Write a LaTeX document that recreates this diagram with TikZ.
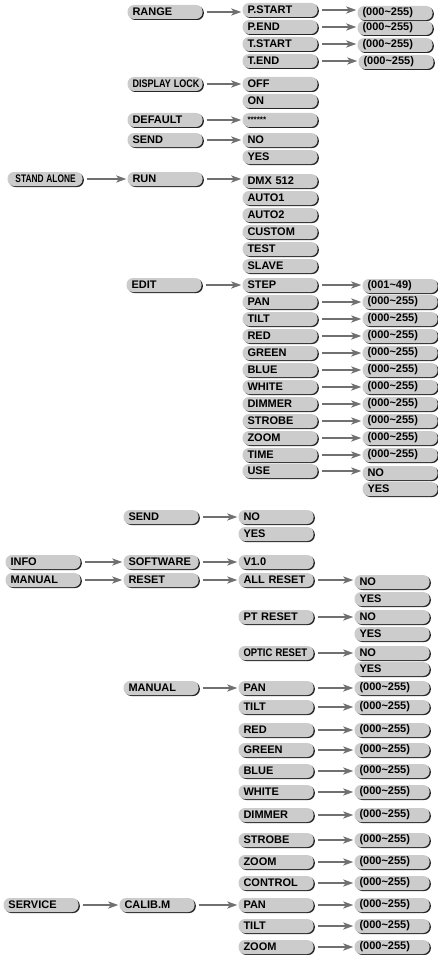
\documentclass[tikz,border=0pt]{standalone}
\usepackage{fontspec}
\setmainfont{Liberation Sans}
\usepackage{tikz}
\usetikzlibrary{arrows.meta, shadows}
\definecolor{boxgray}{RGB}{204,204,204}
\definecolor{arrgray}{RGB}{112,112,112}
\newcommand{\narrow}[2][0.82]{\scalebox{#1}[1]{#2}}

\begin{document}
\begin{tikzpicture}[
  x=1pt, y=-1pt,
  item/.style = {fill=boxgray, rounded corners=6.5pt,
                 minimum height=14pt, text width=65pt,
                 inner xsep=5pt, inner ysep=0pt, align=left,
                 font=\fontsize{11}{12}\selectfont\bfseries,
                 general shadow={fill=black!85, shadow xshift=1.3pt,
                                 shadow yshift=-1pt}},
  arr/.style  = {-{Stealth[length=10pt,width=7pt,inset=2.5pt]},
                 line width=2.6pt, arrgray, shorten <=4pt, shorten >=1pt},
]
\useasboundingbox (0,0) rectangle (437,955);

%% Range
\node[item] (range)   at (165, 12) {RANGE};
\node[item] (pstart)  at (280, 10) {P.START};
\node[item] (pend)    at (280, 27) {P.END};
\node[item] (tstart)  at (280, 44) {T.START};
\node[item] (tend)    at (280, 61) {T.END};
\node[item] (vpstart) at (395, 13) {(000\textasciitilde255)};
\node[item] (vpend)   at (395, 28) {(000\textasciitilde255)};
\node[item] (vtstart) at (395, 45) {(000\textasciitilde255)};
\node[item] (vtend)   at (396, 62) {(000\textasciitilde255)};

%% Display lock, default, send
\node[item] (dlock)   at (165, 84) {\narrow{DISPLAY LOCK}};
\node[item] (off)     at (280, 84) {OFF};
\node[item] (on)      at (280,101) {ON};
\node[item] (default) at (165,120) {DEFAULT};
\node[item] (stars)   at (280,120) {\raisebox{-2.5pt}{\fontsize{8}{9}\selectfont ******}};
\node[item] (send)    at (165,140) {SEND};
\node[item] (sendno)  at (280,140) {NO};
\node[item] (sendyes) at (280,157) {YES};

%% Stand alone / run
\node[item] (stalone) at (45,179) {\hspace*{3pt}\narrow[0.76]{STAND ALONE}};
\node[item] (run)     at (165,179) {RUN};
\node[item] (dmx)     at (280,181) {DMX 512};
\node[item] (auto1)   at (280,198) {AUTO1};
\node[item] (auto2)   at (280,215) {AUTO2};
\node[item] (custom)  at (280,232) {CUSTOM};
\node[item] (test)    at (280,249) {TEST};
\node[item] (slave)   at (280,266) {SLAVE};

%% Edit
\node[item] (edit)    at (164,285) {EDIT};
\node[item] (step)    at (280,285) {STEP};
\node[item] (epan)    at (280,302) {PAN};
\node[item] (etilt)   at (280,319) {TILT};
\node[item] (ered)    at (280,336) {RED};
\node[item] (egreen)  at (280,353) {GREEN};
\node[item] (eblue)   at (280,370) {BLUE};
\node[item] (ewhite)  at (280,387) {WHITE};
\node[item] (edimmer) at (280,404) {DIMMER};
\node[item] (estrobe) at (280,421) {STROBE};
\node[item] (ezoom)   at (280,438) {ZOOM};
\node[item] (etime)   at (280,455) {TIME};
\node[item] (use)     at (280,471) {USE};
\node[item] (vstep)    at (400,286) {(001\textasciitilde49)};
\node[item] (vepan)    at (400,302) {(000\textasciitilde255)};
\node[item] (vetilt)   at (400,319) {(000\textasciitilde255)};
\node[item] (vered)    at (400,336) {(000\textasciitilde255)};
\node[item] (vegreen)  at (400,353) {(000\textasciitilde255)};
\node[item] (veblue)   at (400,370) {(000\textasciitilde255)};
\node[item] (vewhite)  at (400,387) {(000\textasciitilde255)};
\node[item] (vedimmer) at (400,404) {(000\textasciitilde255)};
\node[item] (vestrobe) at (400,421) {(000\textasciitilde255)};
\node[item] (vezoom)   at (400,438) {(000\textasciitilde255)};
\node[item] (vetime)   at (400,455) {(000\textasciitilde255)};
\node[item] (useno)    at (400,473) {NO};
\node[item] (useyes)   at (400,489) {YES};

%% Send (stand alone)
\node[item] (sendb)    at (161,517) {SEND};
\node[item] (sendbno)  at (276,517) {NO};
\node[item] (sendbyes) at (276,534) {YES};

%% Info
\node[item] (info)     at (43,562) {INFO};
\node[item] (software) at (161,562) {SOFTWARE};
\node[item] (ver)      at (276,562) {V1.0};

%% Manual / reset
\node[item] (manual)   at (43,580) {MANUAL};
\node[item] (reset)    at (161,580) {RESET};
\node[item] (allreset) at (276,580) {ALL RESET};
\node[item] (allno)    at (392,582) {NO};
\node[item] (allyes)   at (392,599) {YES};
\node[item] (ptreset)  at (276,617) {PT RESET};
\node[item] (ptno)     at (392,617) {NO};
\node[item] (ptyes)    at (392,634) {YES};
\node[item] (opreset)  at (276,653) {\narrow[0.86]{OPTIC RESET}};
\node[item] (opno)     at (392,653) {NO};
\node[item] (opyes)    at (392,669) {YES};

%% Manual / channels
\node[item] (manualb)  at (161,688) {MANUAL};
\node[item] (mpan)     at (276,688) {PAN};
\node[item] (mtilt)    at (276,707) {TILT};
\node[item] (mred)     at (276,730) {RED};
\node[item] (mgreen)   at (276,750) {GREEN};
\node[item] (mblue)    at (276,771) {BLUE};
\node[item] (mwhite)   at (276,792) {WHITE};
\node[item] (mdimmer)  at (276,815) {DIMMER};
\node[item] (mstrobe)  at (276,840) {STROBE};
\node[item] (mzoom)    at (276,862) {ZOOM};
\node[item] (mcontrol) at (276,883) {CONTROL};
\node[item] (vmpan)     at (392,688) {(000\textasciitilde255)};
\node[item] (vmtilt)    at (392,707) {(000\textasciitilde255)};
\node[item] (vmred)     at (392,730) {(000\textasciitilde255)};
\node[item] (vmgreen)   at (392,750) {(000\textasciitilde255)};
\node[item] (vmblue)    at (392,771) {(000\textasciitilde255)};
\node[item] (vmwhite)   at (392,792) {(000\textasciitilde255)};
\node[item] (vmdimmer)  at (392,815) {(000\textasciitilde255)};
\node[item] (vmstrobe)  at (392,840) {(000\textasciitilde255)};
\node[item] (vmzoom)    at (392,862) {(000\textasciitilde255)};
\node[item] (vmcontrol) at (392,883) {(000\textasciitilde255)};

%% Service
\node[item] (service)  at (41,905) {SERVICE};
\node[item] (calib)    at (157,905) {CALIB.M};
\node[item] (cpan)     at (276,905) {PAN};
\node[item] (ctilt)    at (276,926) {TILT};
\node[item] (czoom)    at (276,947) {ZOOM};
\node[item] (vcpan)    at (392,905) {(000\textasciitilde255)};
\node[item] (vctilt)   at (392,926) {(000\textasciitilde255)};
\node[item] (vczoom)   at (392,947) {(000\textasciitilde255)};

%% Arrows
\foreach \a/\b in {range/pstart, pstart/vpstart, pend/vpend, tstart/vtstart,
    tend/vtend, dlock/off, default/stars, send/sendno, stalone/run, run/dmx,
    edit/step, step/vstep, epan/vepan, etilt/vetilt, ered/vered,
    egreen/vegreen, eblue/veblue, ewhite/vewhite, edimmer/vedimmer,
    estrobe/vestrobe, ezoom/vezoom, etime/vetime, use/useno,
    sendb/sendbno, info/software, software/ver, manual/reset,
    reset/allreset, allreset/allno, ptreset/ptno, opreset/opno,
    manualb/mpan, mpan/vmpan, mtilt/vmtilt, mred/vmred, mgreen/vmgreen,
    mblue/vmblue, mwhite/vmwhite, mdimmer/vmdimmer, mstrobe/vmstrobe,
    mzoom/vmzoom, mcontrol/vmcontrol, service/calib, calib/cpan,
    cpan/vcpan, ctilt/vctilt, czoom/vczoom}
  \draw[arr] (\a.east) -- (\a.east -| \b.west);

\end{tikzpicture}
\end{document}
